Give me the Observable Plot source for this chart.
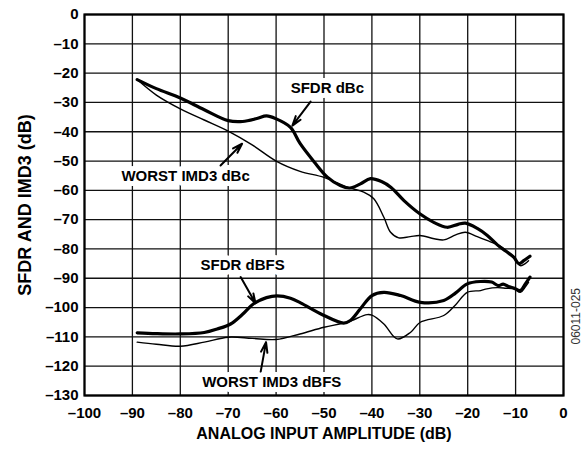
<!DOCTYPE html>
<html><head><meta charset="utf-8">
<script src="https://cdn.jsdelivr.net/npm/d3@7"></script>
<script src="https://cdn.jsdelivr.net/npm/@observablehq/plot@0.6"></script>
<style>body{margin:0;background:#fff} #note{font-size:1px;color:#fff;height:1px;overflow:hidden}</style>
</head><body><div id="chart"></div><div id="note">.</div>
<script>
// Tick values
const xTicks = [-100, -90, -80, -70, -60, -50, -40, -30, -20, -10, 0];
const yTicks = [-130, -120, -110, -100, -90, -80, -70, -60, -50, -40, -30, -20, -10, 0];

// SFDR dBc (thick)
const sfdrDbcX = [-89, -85, -80, -75, -70, -67, -64, -62, -60, -57, -55, -52, -49.3, -46.6, -44.6, -42.4, -40.3, -38, -36, -33.3, -30, -27, -24.3, -22, -20.5, -18, -15.9, -13.8, -12, -10.4, -9.3, -8.3, -7];
const sfdrDbcY = [-22.2, -25.3, -28.5, -32.5, -36.2, -36.5, -35.5, -34.6, -35.6, -38.5, -44, -50.4, -55.5, -58.4, -59.2, -57.8, -56, -57, -59, -63.5, -68, -71, -72.6, -71.6, -71.2, -73, -75.4, -78.6, -80.8, -82.8, -85, -84, -82.5];

// WORST IMD3 dBc (thin)
const imdDbcX = [-89, -85, -80, -75, -70, -65, -60, -55, -50, -45, -41.7, -39.6, -37.5, -36.1, -34.4, -32, -30, -27, -25, -22.5, -20.5, -18, -16, -13.5, -12, -10.4, -9, -8, -7.3];
const imdDbcY = [-22.2, -27.5, -32.2, -36, -39.8, -44.5, -50, -53.5, -55.6, -59, -60.6, -62.9, -69.2, -74.3, -76.2, -75.8, -75.4, -76.5, -76.9, -75.2, -74.3, -75.8, -77.1, -78.8, -80.5, -82.8, -85.7, -85, -84];

// SFDR dBFS (thick)
const sfdrDbfsX = [-89, -85, -80, -75, -72.3, -69.5, -67, -64.7, -62, -59.8, -57, -54.9, -50, -45.9, -44.5, -42.4, -40, -37.5, -34, -29.9, -25, -22.5, -20.1, -17.3, -15, -13.6, -12.6, -11.5, -10.4, -9, -8, -7];
const sfdrDbfsY = [-108.6, -108.9, -109, -108.5, -107.3, -105.6, -102.3, -98.7, -96.6, -96, -96.8, -98.4, -102.7, -105.3, -104.4, -100.4, -95.9, -94.8, -95.9, -98.2, -97.6, -95, -91.9, -91.1, -91.3, -92.5, -92, -92.8, -93.3, -94.2, -92, -89.6];

// WORST IMD3 dBFS (thin)
const imdDbfsX = [-89, -85, -80, -75, -70, -65, -60, -55, -50, -45.2, -41, -40, -37.5, -34.7, -31.9, -29.9, -25, -22.5, -20.1, -17.3, -16, -13.8, -12, -10.4, -9, -8, -7.3];
const imdDbfsY = [-111.8, -112.5, -113.2, -111.8, -110.1, -110.5, -110.9, -109, -106.7, -105, -102.4, -102.6, -105.6, -110.7, -108.4, -105, -102.7, -99, -94.8, -94.2, -93.6, -93.2, -93.4, -93.6, -94.8, -93, -91.4];

// Annotations (label position and arrow, in data units)
const labels = ["SFDR dBc", "WORST IMD3 dBc", "SFDR dBFS", "WORST IMD3 dBFS"];
const labelX = [-49.3, -78.9, -67, -60.9];
const labelY = [-25.3, -55.3, -85.5, -125.6];
const arrowX1 = [-52.8, -71.6, -67.4, -63.3];
const arrowY1 = [-29.7, -51.5, -89.6, -122.6];
const arrowX2 = [-56.6, -67.1, -64.3, -62.1];
const arrowY2 = [-37.9, -44.1, -98.5, -111.8];

const xTitle = "ANALOG INPUT AMPLITUDE (dB)";
const yTitle = "SFDR AND IMD3 (dB)";
const figId = "06011-025";

const pts = (xs, ys) => xs.map((x, i) => ({x, y: ys[i]}));
const annot = labels.map((t, i) => ({t, lx: labelX[i], ly: labelY[i], x1: arrowX1[i], y1: arrowY1[i], x2: arrowX2[i], y2: arrowY2[i]}));
const fmt = d => d === 0 ? "0" : "\u2013" + Math.abs(d);
const xMin = xTicks[0], xMax = xTicks[xTicks.length - 1];
const yMin = yTicks[0], yMax = yTicks[yTicks.length - 1];

const chart = Plot.plot({
  width: 588, height: 450,
  marginLeft: 84, marginRight: 25, marginTop: 14, marginBottom: 55,
  style: {fontFamily: "'Liberation Sans', Arial, sans-serif", fontSize: "15px", fontWeight: "bold", background: "white"},
  x: {domain: [xMin, xMax]},
  y: {domain: [yMin, yMax]},
  marks: [
    Plot.link(xTicks, {x1: d => d, x2: d => d, y1: () => yMin, y2: () => yMax, stroke: "#111", strokeWidth: 1.3}),
    Plot.link(yTicks, {y1: d => d, y2: d => d, x1: () => xMin, x2: () => xMax, stroke: "#111", strokeWidth: 1.3}),
    Plot.line(pts(imdDbcX, imdDbcY), {x: "x", y: "y", curve: "catmull-rom", stroke: "black", strokeWidth: 1.4}),
    Plot.line(pts(imdDbfsX, imdDbfsY), {x: "x", y: "y", curve: "catmull-rom", stroke: "black", strokeWidth: 1.4}),
    Plot.line(pts(sfdrDbcX, sfdrDbcY), {x: "x", y: "y", curve: "catmull-rom", stroke: "black", strokeWidth: 3.2}),
    Plot.line(pts(sfdrDbfsX, sfdrDbfsY), {x: "x", y: "y", curve: "catmull-rom", stroke: "black", strokeWidth: 3.2}),
    Plot.arrow(annot, {x1: "x1", y1: "y1", x2: "x2", y2: "y2", stroke: "black", strokeWidth: 2, headLength: 10, headAngle: 35}),
    Plot.text(annot, {x: "lx", y: "ly", text: "t", fill: "black", stroke: "white", strokeWidth: 10, fontSize: 15}),
    Plot.frame({stroke: "black", strokeWidth: 2.2}),
    Plot.axisX(xTicks, {tickSize: 0, tickPadding: 12, tickFormat: fmt, label: null, fontSize: 15}),
    Plot.axisY(yTicks, {tickSize: 0, tickPadding: 6, tickFormat: fmt, label: null, fontSize: 15}),
    Plot.text([xTitle], {frameAnchor: "bottom", dy: 43, fontSize: 16}),
    Plot.text([yTitle], {frameAnchor: "left", textAnchor: "middle", dx: -59, rotate: -90, fontSize: 18}),
    Plot.text([figId], {frameAnchor: "right", dx: 13, dy: 83, rotate: -90, fontSize: 12, fontWeight: "normal", fill: "#333"})
  ]
});
document.getElementById("chart").appendChild(chart);
</script>
</body></html>
